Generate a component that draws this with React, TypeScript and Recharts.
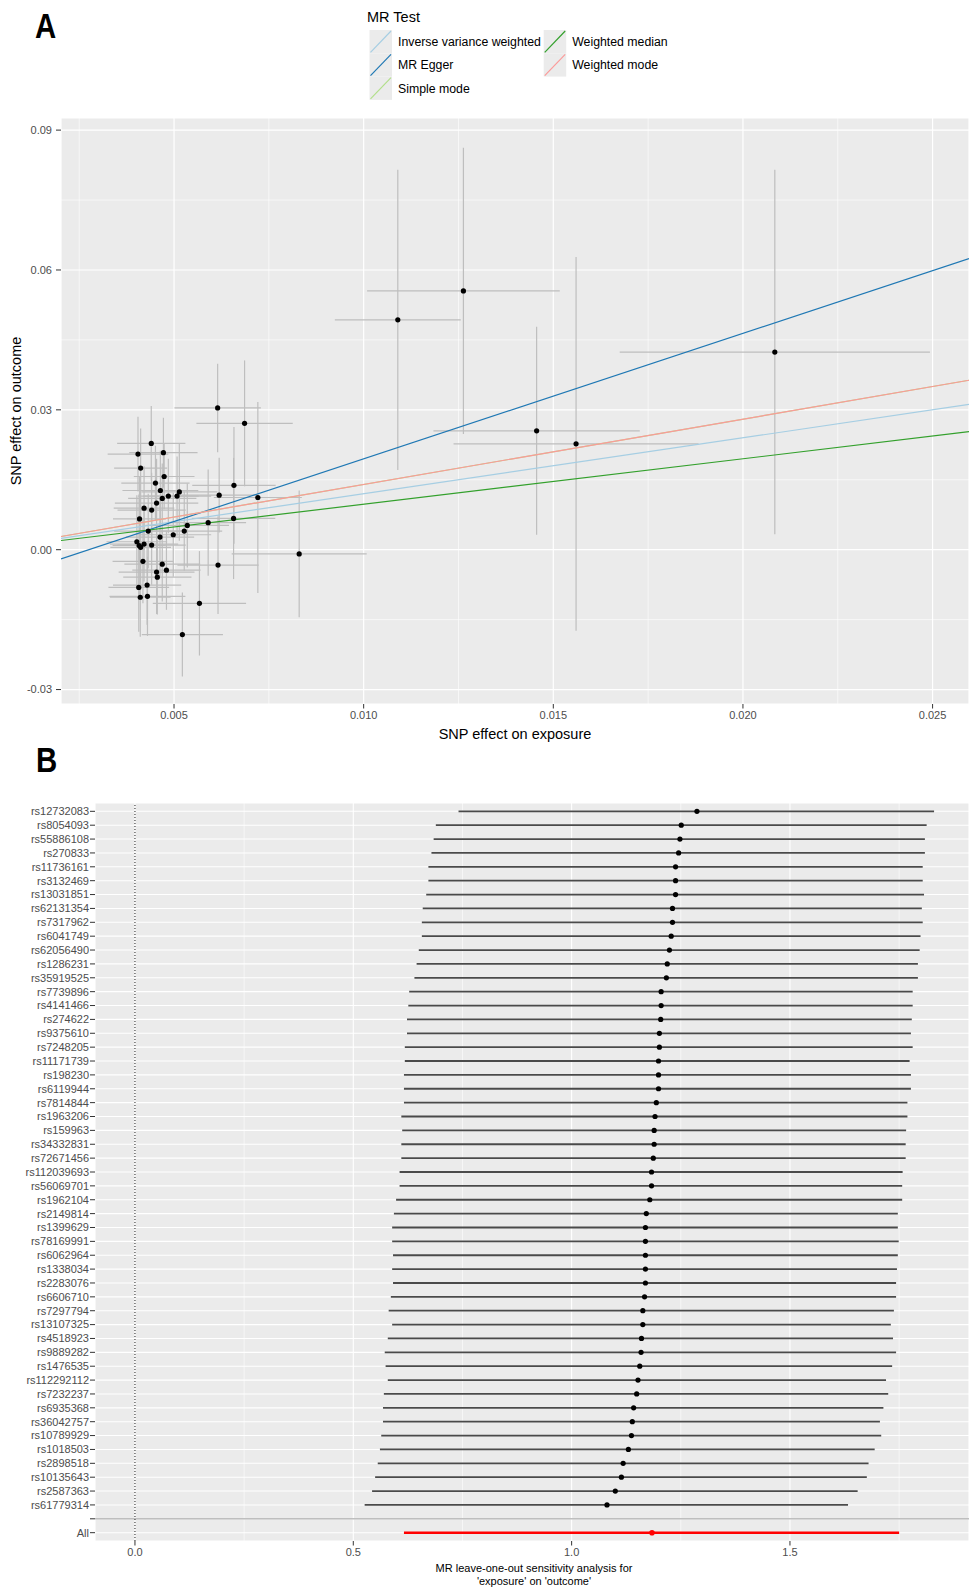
import React from 'react';
import { ScatterChart, Scatter, XAxis, YAxis, ErrorBar, ReferenceLine, CartesianGrid } from 'recharts';

// ---------- Panel A: scatter of SNP effects ----------
const snpExposure = [
  0.00615, 0.00686, 0.0044, 0.00405, 0.00472, 0.00412, 0.00474, 0.00451, 0.00658, 0.00464,
  0.00619, 0.00469, 0.00485, 0.00514, 0.00508, 0.00721, 0.00454, 0.00421, 0.00441, 0.00409,
  0.00657, 0.0059, 0.00535, 0.00527, 0.00432, 0.00498, 0.00463, 0.00402, 0.00408, 0.00412,
  0.00421, 0.00441, 0.00418, 0.00616, 0.00469, 0.0048, 0.00454, 0.00456, 0.00407, 0.00429,
  0.00411, 0.0043, 0.00567, 0.00522, 0.0083, 0.0109, 0.01263, 0.01456, 0.0156, 0.02084,
];
const snpOutcome = [
  0.0304, 0.0271, 0.0228, 0.0205, 0.0208, 0.0175, 0.0157, 0.0143, 0.0138, 0.0127,
  0.0117, 0.011, 0.0115, 0.0124, 0.0115, 0.0112, 0.01, 0.0089, 0.0085, 0.0066,
  0.0067, 0.0058, 0.0052, 0.004, 0.004, 0.0032, 0.0027, 0.0017, 0.0009, 0.0005,
  0.0012, 0.001, -0.0025, -0.0033, -0.0031, -0.0044, -0.0048, -0.0059, -0.0081, -0.0076,
  -0.0102, -0.01, -0.0115, -0.0182, -0.0009, 0.0493, 0.0555, 0.0255, 0.0227, 0.0424,
];
const seExposure = [
  0.00114, 0.00127, 0.0009, 0.0008, 0.0009, 0.0007, 0.0008, 0.0009, 0.0011, 0.001,
  0.001, 0.0009, 0.0008, 0.001, 0.0009, 0.00116, 0.0011, 0.0008, 0.0009, 0.0007,
  0.0011, 0.001, 0.0011, 0.001, 0.0009, 0.001, 0.0009, 0.0008, 0.0007, 0.0008,
  0.0009, 0.0009, 0.0008, 0.00107, 0.001, 0.0009, 0.001, 0.0009, 0.0008, 0.0009,
  0.0008, 0.001, 0.00123, 0.00107, 0.00178, 0.00166, 0.00254, 0.00272, 0.00323, 0.00409,
];
const seOutcome = [
  0.0095, 0.0135, 0.008, 0.008, 0.0075, 0.0085, 0.007, 0.008, 0.0125, 0.0085,
  0.008, 0.0075, 0.008, 0.0105, 0.0085, 0.0205, 0.0095, 0.009, 0.008, 0.009,
  0.013, 0.0114, 0.009, 0.0085, 0.008, 0.009, 0.0085, 0.01, 0.011, 0.009,
  0.008, 0.0085, 0.009, 0.0105, 0.008, 0.0085, 0.009, 0.008, 0.0095, 0.0085,
  0.0085, 0.0085, 0.0112, 0.009, 0.0136, 0.0322, 0.0307, 0.0223, 0.0401, 0.0391,
];

const methodNames = ['Inverse variance weighted', 'MR Egger', 'Simple mode', 'Weighted median', 'Weighted mode'];
const methodColors = ['#A6CEE3', '#1F78B4', '#B2DF8A', '#33A02C', '#FB9A99'];
const methodIntercepts = [0, -0.0074, 0, 0, 0];
const methodSlopes = [1.2, 2.69, 1.4, 0.975, 1.4];

const xDomainA: [number, number] = [0.00202, 0.02596];
const yDomainA: [number, number] = [-0.0331, 0.0926];
const xTicksA = [0.005, 0.01, 0.015, 0.02, 0.025];
const xMinorA = [0.0025, 0.0075, 0.0125, 0.0175, 0.0225];
const yTicksA = [-0.03, 0, 0.03, 0.06, 0.09];
const yMinorA = [-0.015, 0.015, 0.045, 0.075];

// ---------- Panel B: leave-one-out ----------
const looSnps = [
  'rs12732083', 'rs8054093', 'rs55886108', 'rs270833', 'rs11736161', 'rs3132469', 'rs13031851', 'rs62131354', 'rs7317962', 'rs6041749',
  'rs62056490', 'rs1286231', 'rs35919525', 'rs7739896', 'rs4141466', 'rs274622', 'rs9375610', 'rs7248205', 'rs11171739', 'rs198230',
  'rs6119944', 'rs7814844', 'rs1963206', 'rs159963', 'rs34332831', 'rs72671456', 'rs112039693', 'rs56069701', 'rs1962104', 'rs2149814',
  'rs1399629', 'rs78169991', 'rs6062964', 'rs1338034', 'rs2283076', 'rs6606710', 'rs7297794', 'rs13107325', 'rs4518923', 'rs9889282',
  'rs1476535', 'rs112292112', 'rs7232237', 'rs6935368', 'rs36042757', 'rs10789929', 'rs1018503', 'rs2898518', 'rs10135643', 'rs2587363',
  'rs61779314',
];
const looEst = [
  1.287, 1.251, 1.248, 1.245, 1.238, 1.238, 1.238, 1.231, 1.231, 1.228,
  1.224, 1.219, 1.217, 1.205, 1.205, 1.204, 1.201, 1.201, 1.199, 1.199,
  1.199, 1.194, 1.191, 1.189, 1.189, 1.187, 1.183, 1.183, 1.179, 1.171,
  1.169, 1.169, 1.169, 1.169, 1.169, 1.167, 1.163, 1.163, 1.16, 1.159,
  1.156, 1.152, 1.149, 1.142, 1.139, 1.137, 1.13, 1.118, 1.114, 1.1,
  1.081,
];
const looLower = [
  0.741, 0.689, 0.684, 0.679, 0.672, 0.672, 0.667, 0.659, 0.657, 0.657,
  0.65, 0.645, 0.64, 0.628, 0.626, 0.623, 0.623, 0.618, 0.618, 0.616,
  0.616, 0.616, 0.61, 0.612, 0.61, 0.61, 0.606, 0.606, 0.598, 0.593,
  0.589, 0.589, 0.591, 0.589, 0.591, 0.586, 0.581, 0.589, 0.579, 0.572,
  0.574, 0.579, 0.57, 0.568, 0.568, 0.564, 0.561, 0.556, 0.55, 0.543,
  0.526,
];
const looUpper = [
  1.83, 1.813, 1.809, 1.809, 1.804, 1.804, 1.807, 1.802, 1.804, 1.799,
  1.797, 1.793, 1.793, 1.781, 1.781, 1.779, 1.777, 1.781, 1.774, 1.777,
  1.777, 1.769, 1.769, 1.766, 1.765, 1.765, 1.758, 1.757, 1.757, 1.747,
  1.747, 1.749, 1.747, 1.745, 1.743, 1.743, 1.738, 1.731, 1.736, 1.743,
  1.734, 1.72, 1.725, 1.714, 1.706, 1.709, 1.694, 1.68, 1.676, 1.655,
  1.633,
];
const allLabel = 'All';
const allEst = 1.184;
const allLower = 0.616;
const allUpper = 1.75;

const rowLabels = [...looSnps, '', allLabel];
const rowTicks = rowLabels.map((_, i) => i + 1);
const xDomainB: [number, number] = [-0.0915, 1.91];
const xTicksB = [0, 0.5, 1.0, 1.5];
const xMinorB = [0.25, 0.75, 1.25, 1.75];

const dataA = snpExposure.map((x, i) => ({ x, y: snpOutcome[i], ex: seExposure[i], ey: seOutcome[i] }));
const dataB = looSnps.map((s, i) => ({ row: i + 1, est: looEst[i], err: [looEst[i] - looLower[i], looUpper[i] - looEst[i]] }));
const dataAll = [{ row: rowLabels.length, est: allEst, err: [allEst - allLower, allUpper - allEst] }];
const separatorRow = rowLabels.indexOf('') + 1;

const tickStyle = { fontSize: 11, fill: '#4d4d4d' };
const tickLineStyle = { stroke: '#333333', strokeWidth: 1 };

const blackDot = (p: any) => <circle cx={p.cx} cy={p.cy} r={2.6} fill="#000" />;
const redDot = (p: any) => <circle cx={p.cx} cy={p.cy} r={2.8} fill="#ff0000" />;

export default function App() {
  return (
    <div style={{ position: 'absolute', left: 0, top: 0, width: 969, height: 1587, overflow: 'hidden', background: '#fff', fontFamily: '"Liberation Sans", Arial, sans-serif' }}>
      <div style={{ position: 'absolute', left: 0, top: 0 }}>
        <ScatterChart width={969} height={740} margin={{ top: 118, right: 0, bottom: 0, left: 0 }}>
          <CartesianGrid fill="#ebebeb" stroke="#ffffff" strokeWidth={1.2} />
          {xMinorA.map((v) => (
            <ReferenceLine key={'xa' + v} x={v} stroke="#ffffff" strokeWidth={0.6} />
          ))}
          {yMinorA.map((v) => (
            <ReferenceLine key={'ya' + v} y={v} stroke="#ffffff" strokeWidth={0.6} />
          ))}
          <XAxis type="number" dataKey="x" domain={xDomainA} allowDataOverflow ticks={xTicksA} interval={0}
            tickFormatter={(v: number) => v.toFixed(3)} height={36} tickSize={4.5} tickMargin={3}
            axisLine={false} tick={tickStyle} tickLine={tickLineStyle} />
          <YAxis type="number" dataKey="y" domain={yDomainA} allowDataOverflow ticks={yTicksA} interval={0}
            tickFormatter={(v: number) => v.toFixed(2)} width={61} tickSize={5} tickMargin={4}
            axisLine={false} tick={tickStyle} tickLine={tickLineStyle} />
          <Scatter data={dataA} isAnimationActive={false} shape={blackDot}>
            <ErrorBar dataKey="ex" direction="x" width={0} stroke="#bebebe" strokeWidth={1.2} />
            <ErrorBar dataKey="ey" direction="y" width={0} stroke="#bebebe" strokeWidth={1.2} />
          </Scatter>
          {methodNames.map((m, i) => (
            <ReferenceLine key={m} ifOverflow="hidden" stroke={methodColors[i]} strokeWidth={1.2}
              segment={[
                { x: xDomainA[0], y: methodIntercepts[i] + methodSlopes[i] * xDomainA[0] },
                { x: xDomainA[1], y: methodIntercepts[i] + methodSlopes[i] * xDomainA[1] },
              ]} />
          ))}
        </ScatterChart>
      </div>

      <div style={{ position: 'absolute', left: 0, top: 780 }}>
        <ScatterChart width={969} height={807} margin={{ top: 23, right: 0, bottom: 0, left: 0 }}>
          <CartesianGrid fill="#ebebeb" stroke="#ffffff" strokeWidth={1.1} />
          {xMinorB.map((v) => (
            <ReferenceLine key={'xb' + v} x={v} stroke="#ffffff" strokeWidth={0.6} />
          ))}
          <ReferenceLine y={separatorRow} stroke="#bebebe" strokeWidth={1.6} />
          <ReferenceLine x={0} stroke="#222" strokeWidth={1} strokeDasharray="1 2" />
          <XAxis type="number" dataKey="est" domain={xDomainB} allowDataOverflow ticks={xTicksB} interval={0}
            tickFormatter={(v: number) => v.toFixed(1)} height={46} tickSize={4.5} tickMargin={3}
            axisLine={false} tick={tickStyle} tickLine={tickLineStyle} />
          <YAxis type="number" dataKey="row" domain={[0.4, rowLabels.length + 0.6]} reversed ticks={rowTicks} interval={0}
            tickFormatter={(v: number) => rowLabels[v - 1] ?? ''} width={95} tickSize={5} tickMargin={1}
            axisLine={false} tick={tickStyle} tickLine={tickLineStyle} />
          <Scatter data={dataB} isAnimationActive={false} shape={blackDot}>
            <ErrorBar dataKey="err" direction="x" width={0} stroke="#4a4a4a" strokeWidth={1.8} />
          </Scatter>
          <Scatter data={dataAll} isAnimationActive={false} shape={redDot}>
            <ErrorBar dataKey="err" direction="x" width={0} stroke="#ff0000" strokeWidth={2.6} />
          </Scatter>
        </ScatterChart>
      </div>

      <svg width={969} height={1587} style={{ position: 'absolute', left: 0, top: 0, pointerEvents: 'none' }}>
        <text transform="translate(35,37.5) scale(0.84,1)" fontSize={35} fontWeight="bold" fill="#000">A</text>
        <text transform="translate(36,771.5) scale(0.84,1)" fontSize={35} fontWeight="bold" fill="#000">B</text>

        <text x={367} y={21.5} fontSize={14.5} fill="#000">MR Test</text>
        {methodNames.map((m, i) => {
          const col = i < 3 ? 0 : 1;
          const row = i < 3 ? i : i - 3;
          const kx = col === 0 ? 369.5 : 543.7;
          const ky = 30 + row * 23.3;
          return (
            <g key={m}>
              <rect x={kx} y={ky} width={22.5} height={23.3} fill="#ebebeb" />
              <line x1={kx + 1} y1={ky + 22.3} x2={kx + 21.5} y2={ky + 1} stroke={methodColors[i]} strokeWidth={1.2} />
              <text x={kx + 28.5} y={ky + 16} fontSize={12.3} fill="#000">{m}</text>
            </g>
          );
        })}

        <text transform="translate(21,411) rotate(-90)" textAnchor="middle" fontSize={14.5} fill="#000">SNP effect on outcome</text>
        <text x={515} y={739} textAnchor="middle" fontSize={14.5} fill="#000">SNP effect on exposure</text>

        <text x={534} y={1572} textAnchor="middle" fontSize={11} fill="#000">MR leave-one-out sensitivity analysis for</text>
        <text x={534} y={1585} textAnchor="middle" fontSize={11} fill="#000">'exposure' on 'outcome'</text>
      </svg>
    </div>
  );
}
